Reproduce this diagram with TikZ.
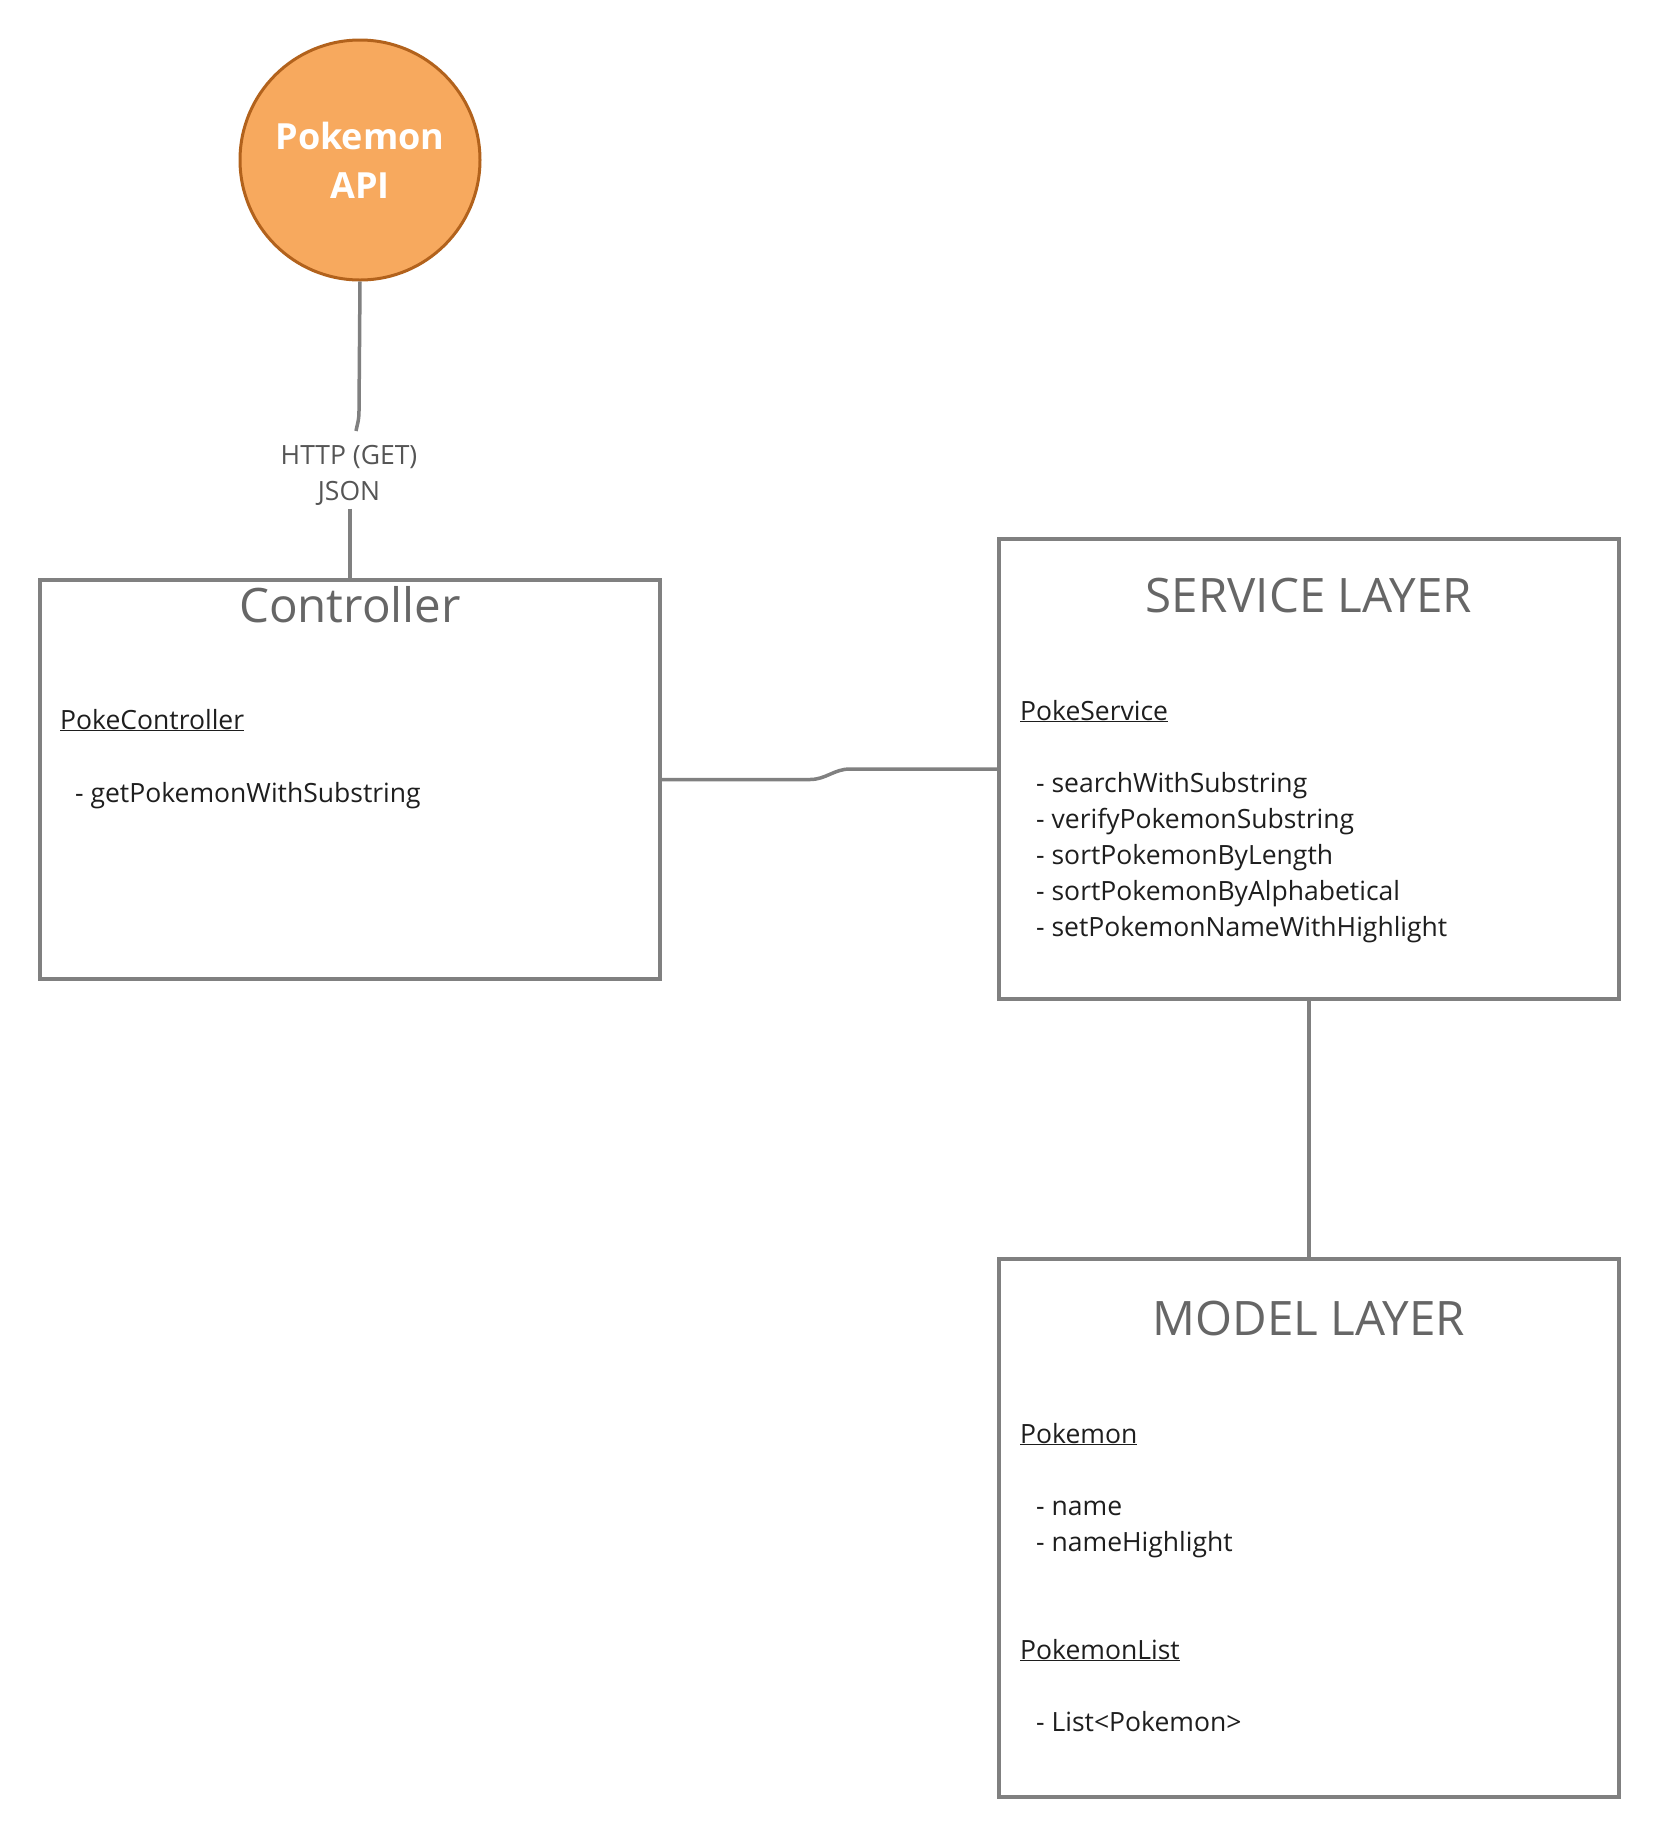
\documentclass[tikz,border=0pt]{standalone}
\usepackage{fontspec}
\setmainfont{Open Sans}
\usepackage{tikz}
\usetikzlibrary{positioning}
\definecolor{linegray}{RGB}{128,128,128}
\definecolor{titlegray}{RGB}{102,102,102}
\definecolor{labelgray}{RGB}{85,85,85}
\definecolor{bodyblack}{RGB}{30,30,30}
\definecolor{apifill}{RGB}{247,169,94}
\definecolor{apiborder}{RGB}{178,98,28}
\tikzset{layer/.style={rectangle,draw=linegray,line width=3.5pt,minimum width=620pt,inner sep=0pt}}
\tikzset{api/.style={circle,draw=apiborder,fill=apifill,line width=3pt,minimum size=240pt,inner sep=0pt,text=white,align=center,font=\fontsize{36}{49}\selectfont\bfseries}}
\tikzset{conn/.style={draw=linegray,line width=3.5pt}}
\tikzset{ttl/.style={anchor=base,inner sep=0pt,text=titlegray,font=\fontsize{47.5}{57}\selectfont}}
\tikzset{cls/.style={anchor=base west,inner sep=0pt,text=bodyblack,font=\fontsize{26.5}{36}\selectfont}}
\tikzset{proto/.style={align=center,text=labelgray,font=\fontsize{26.5}{36}\selectfont}}

\begin{document}
\begin{tikzpicture}[x=1pt,y=-1pt]
    \useasboundingbox (0,0) rectangle (1660,1840);

    \node[api] (api) at (360,160) {Pokemon\\API};
    \node[proto] (http) at (349,475) {HTTP (GET)\\JSON};
    \coordinate (hop) at (356,431);

    \node[layer,minimum height=399pt] (ctrl) at (350,779.5) {};
    \node[layer,minimum height=460pt] (svc) at (1309,769) {};
    \node[layer,minimum height=538pt] (mdl) at (1309,1528) {};

    % controller
    \node[ttl] (ctrlttl) at (350,622) {Controller};
    \node[cls] (ctrlcls) at (60,729) {\underline{PokeController}};
    \node[cls] (ctrlm1) at (75,802) {- getPokemonWithSubstring};

    % service layer
    \node[ttl] (svcttl) at (1309,612) {SERVICE LAYER};
    \node[cls] (svccls) at (1020,720) {\underline{PokeService}};
    \foreach \txt [count=\i] in {searchWithSubstring,verifyPokemonSubstring,sortPokemonByLength,sortPokemonByAlphabetical,setPokemonNameWithHighlight}
        \node[cls] (svcm\i) at (1036,{756+36*\i}) {- \txt};

    % model layer
    \node[ttl] (mdlttl) at (1309,1335) {MODEL LAYER};
    \node[cls] (mdlpoke) at (1020,1443) {\underline{Pokemon}};
    \node[cls] (mdlp1) at (1036,1515) {- name};
    \node[cls] (mdlp2) at (1036,1551) {- nameHighlight};
    \node[cls] (mdllist) at (1020,1659) {\underline{PokemonList}};
    \node[cls] (mdll1) at (1036,1731) {- List<Pokemon>};

    \draw[conn] (api.south) -- (359,411) .. controls (359,421) and (357,425) .. (hop);
    \draw[conn] (http.south -| ctrl.north) -- (ctrl.north);
    \draw[conn] (ctrl.east) -- (810,779.5) .. controls (826,779.5) and (834,769) .. (850,769) -- (svc.west);
    \draw[conn] (svc.south) -- (mdl.north);
\end{tikzpicture}
\end{document}
